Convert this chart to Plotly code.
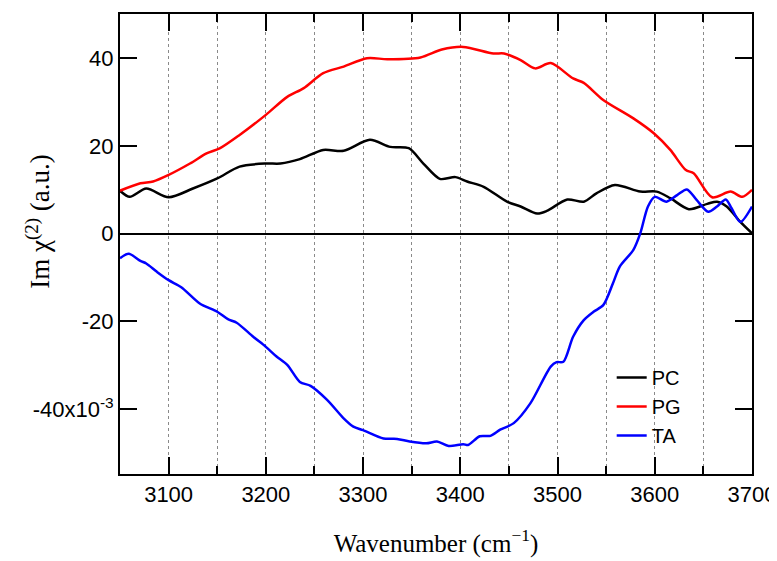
import plotly.graph_objects as go

# ---- data ----
wn_pc = [3050, 3060, 3077, 3100, 3125, 3150, 3173, 3200, 3215, 3235, 3259, 3280, 3307, 3328, 3347,
         3362, 3379, 3395, 3407, 3424, 3448, 3462, 3479, 3489, 3510, 3527, 3540, 3559, 3585, 3602,
         3616, 3635, 3654, 3664, 3674, 3688, 3700]
pc = [9.8, 8.4, 10.3, 8.3, 10.3, 12.6, 15.3, 16.0, 16.0, 17.0, 19.1, 18.9, 21.4, 19.8, 19.5,
      16.0, 12.5, 12.9, 11.9, 10.7, 7.3, 6.2, 4.6, 5.2, 7.8, 7.3, 9.2, 11.1, 9.6, 9.6,
      8.1, 5.6, 6.8, 7.3, 6.2, 2.7, 0.1]

wn_pg = [3050, 3071, 3084, 3100, 3122, 3139, 3153, 3173, 3200, 3222, 3239, 3259, 3280, 3304, 3325,
         3359, 3381, 3403, 3434, 3445, 3462, 3477, 3493, 3516, 3527, 3547, 3578, 3599, 3616, 3632,
         3640, 3659, 3678, 3690, 3700]
pg = [9.8, 11.5, 11.9, 13.4, 16.0, 18.3, 19.5, 22.5, 27.1, 31.2, 33.2, 36.6, 38.1, 40.0, 39.8,
      40.2, 42.0, 42.6, 41.1, 41.1, 39.6, 37.7, 38.9, 35.4, 34.4, 30.5, 26.3, 22.9, 19.1, 14.5,
      13.8, 8.3, 9.6, 8.4, 10.0]

wn_ta = [3050, 3059, 3071, 3077, 3088, 3100, 3113, 3132, 3150, 3161, 3170, 3187, 3200, 3211, 3222,
         3235, 3246, 3263, 3280, 3290, 3300, 3321, 3335, 3348, 3365, 3376, 3388, 3403, 3408, 3420,
         3431, 3441, 3455, 3472, 3493, 3499, 3506, 3516, 3527, 3537, 3547, 3557, 3564, 3578, 3585,
         3593, 3600, 3612, 3623, 3633, 3643, 3655, 3664, 3673, 3679, 3688, 3700]
ta = [-5.6, -4.6, -6.2, -6.8, -8.7, -10.6, -12.2, -15.9, -17.8, -19.5, -20.3, -23.5, -25.8, -28.0, -29.9,
      -33.8, -34.7, -37.9, -42.1, -44.0, -44.8, -46.7, -46.8, -47.4, -47.8, -47.4, -48.4, -48.0, -48.2, -46.2,
      -46.1, -44.7, -43.2, -38.7, -30.3, -29.3, -29.2, -23.5, -19.7, -17.8, -16.3, -11.3, -7.5, -3.7, 0.0,
      6.2, 8.4, 7.3, 8.8, 10.1, 7.7, 5.0, 6.2, 7.8, 5.8, 2.7, 6.2]

series_names = ["PC", "PG", "TA"]
series_colors = ["#000000", "#ff0000", "#0000ff"]

y_tickvals = [-40, -20, 0, 20, 40]
y_ticktext = ["-40x10<sup>-3</sup>", "-20", "0", "20", "40"]

x_range = [3050, 3700]
y_range = [-54.8, 50.1]

# ---- figure ----
fig = go.Figure()
for name, xs, ys, col in zip(series_names, [wn_pc, wn_pg, wn_ta], [pc, pg, ta], series_colors):
    fig.add_trace(go.Scatter(x=xs, y=ys, mode="lines", name=name,
                             line=dict(color=col, width=2.5, shape="spline", smoothing=0.8)))

tickfont = dict(family="Liberation Sans, Arial, sans-serif", size=22, color="black")
serif = "Liberation Serif, Times New Roman, serif"

# page body has an 8px margin: shrink the figure so the plot frame sits where the reference has it
fig.update_layout(
    width=769, height=553,
    margin=dict(l=112, r=25, t=6, b=87),
    plot_bgcolor="white",
    showlegend=True,
    legend=dict(x=0.778, y=0.252, xanchor="left", yanchor="top",
                bgcolor="rgba(0,0,0,0)", borderwidth=0,
                font=dict(family="Liberation Sans, Arial, sans-serif", size=20, color="black"),
                tracegroupgap=0),
    xaxis=dict(
        range=x_range, tick0=3000, dtick=100, automargin=False,
        ticks="inside", ticklen=17, tickwidth=2, tickcolor="black",
        showline=True, linewidth=2, linecolor="black", mirror="allticks",
        showgrid=True, gridcolor="#8a8a8a", gridwidth=1, griddash="dot",
        zeroline=False, tickfont=tickfont,
        minor=dict(dtick=50, ticks="inside", ticklen=8, tickwidth=2, tickcolor="black",
                   showgrid=True, gridcolor="#8a8a8a", gridwidth=1, griddash="dot"),
        title=dict(text="Wavenumber (cm<sup>−1</sup>)",
                   font=dict(family=serif, size=25, color="black"), standoff=28),
    ),
    yaxis=dict(
        range=y_range, tickvals=y_tickvals, ticktext=y_ticktext, automargin=False,
        ticks="inside", ticklen=17, tickwidth=2, tickcolor="black",
        showline=True, linewidth=2, linecolor="black", mirror="allticks",
        showgrid=False, zeroline=True, zerolinecolor="black", zerolinewidth=2,
        tickfont=tickfont,
    ),
    annotations=[dict(
        text="Im χ<sup>(2)</sup> (a.u.)", textangle=-90,
        xref="paper", yref="paper", x=-0.13, y=0.548, xanchor="center", yanchor="middle",
        showarrow=False, font=dict(family=serif, size=27, color="black"),
    )],
)

fig.write_html("out.html")
